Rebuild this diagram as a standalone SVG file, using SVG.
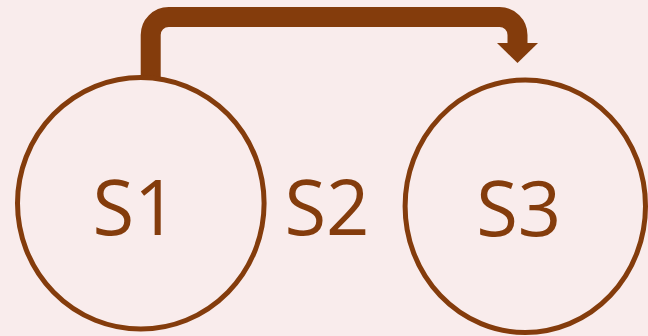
<svg xmlns="http://www.w3.org/2000/svg" width="648" height="336" viewBox="0 0 648 336">
<style>
.node{fill:none;stroke:#843c0c;stroke-width:5}
.lbl{font-family:"Open Sans","Noto Sans",sans-serif;font-size:76px;fill:#843c0c;text-anchor:middle}
.conn{fill:none;stroke:#843c0c;stroke-width:20}
</style>
<rect width="648" height="336" fill="#f9ecec"/>
<g id="connectors">
<path class="conn" d="M150.7,80 V35 A18,18 0 0 1 168.7,17 H499.5 A18,18 0 0 1 517.5,35 V44"/>
<polygon points="497,43 538,43 517.5,63" fill="#843c0c"/>
</g>
<g id="S1">
<ellipse class="node" cx="140.8" cy="203.3" rx="123.3" ry="125.8"/>
<text class="lbl" x="135" y="235">S1</text>
</g>
<g id="S2">
<text class="lbl" x="327" y="235">S2</text>
</g>
<g id="S3">
<ellipse class="node" cx="525.3" cy="206.2" rx="120.2" ry="126.3"/>
<text class="lbl" x="518.7" y="236">S3</text>
</g>
</svg>
